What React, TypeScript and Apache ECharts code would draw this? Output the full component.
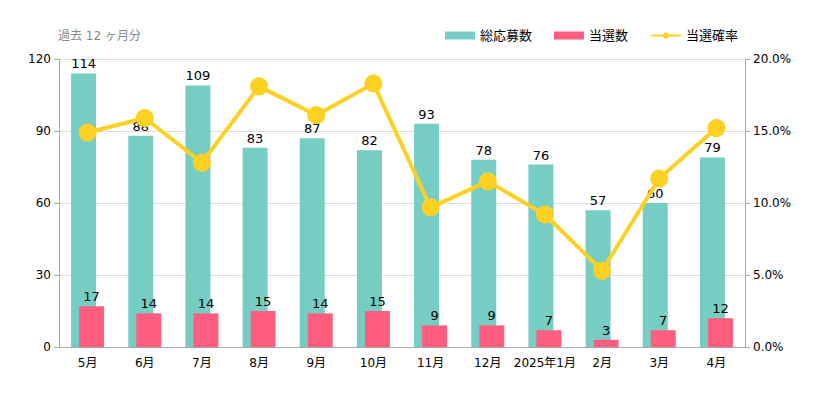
import React, { useEffect, useRef } from "react";
import * as echarts from "echarts";

const months = ["5月", "6月", "7月", "8月", "9月", "10月", "11月", "12月", "2025年1月", "2月", "3月", "4月"];
const applications = [114, 88, 109, 83, 87, 82, 93, 78, 76, 57, 60, 79];
const winners = [17, 14, 14, 15, 14, 15, 9, 9, 7, 3, 7, 12];
const winRate = [14.9, 15.9, 12.8, 18.1, 16.1, 18.3, 9.7, 11.5, 9.2, 5.3, 11.7, 15.2];
const leftTicks = { min: 0, max: 120, interval: 30 };
const rightTicks = { min: 0, max: 20, interval: 5 };

const FONT = "'DejaVu Sans', 'Noto Sans CJK JP', sans-serif";

export default function App() {
  const ref = useRef<HTMLDivElement>(null);
  useEffect(() => {
    const chart = echarts.init(ref.current!, null, { renderer: "svg" });
    chart.setOption({
      animation: false,
      textStyle: { fontFamily: FONT },
      title: {
        text: "過去 12 ヶ月分",
        left: 45,
        top: 17,
        textStyle: { fontSize: 12, color: "#888", fontWeight: "normal", fontFamily: FONT },
      },
      legend: {
        right: 81,
        top: 16,
        itemWidth: 30,
        itemHeight: 8,
        itemGap: 22,
        textStyle: { fontSize: 13, color: "#000", fontFamily: FONT },
        data: [
          { name: "総応募数", icon: "rect" },
          { name: "当選数", icon: "rect" },
          { name: "当選確率" },
        ],
      },
      grid: { left: 51, right: 79, top: 51, bottom: 42 },
      xAxis: {
        type: "category",
        data: months,
        axisLine: { lineStyle: { color: "#aaa" } },
        axisTick: { lineStyle: { color: "#aaa" } },
        axisLabel: { color: "#000", fontSize: 12, margin: 10, interval: 0, fontFamily: FONT },
      },
      yAxis: [
        {
          type: "value",
          min: leftTicks.min,
          max: leftTicks.max,
          interval: leftTicks.interval,
          axisLine: { show: true, lineStyle: { color: "#aaa" } },
          axisTick: { show: true, lineStyle: { color: "#aaa" } },
          axisLabel: { color: "#000", fontSize: 12, fontFamily: FONT },
          splitLine: { lineStyle: { color: "#ddd" } },
        },
        {
          type: "value",
          min: rightTicks.min,
          max: rightTicks.max,
          interval: rightTicks.interval,
          axisLine: { show: true, lineStyle: { color: "#aaa" } },
          axisTick: { show: true, lineStyle: { color: "#aaa" } },
          axisLabel: {
            color: "#000",
            fontSize: 12,
            fontFamily: FONT,
            formatter: (v: number) => v.toFixed(1) + "%",
          },
          splitLine: { show: false },
        },
      ],
      series: [
        {
          name: "総応募数",
          type: "bar",
          data: applications,
          barWidth: 25,
          barGap: "-68%",
          itemStyle: { color: "#76CDC4" },
          label: { show: true, position: "top", color: "#000", fontSize: 13, distance: 3, fontFamily: FONT },
          z: 2,
        },
        {
          name: "当選数",
          type: "bar",
          data: winners,
          barWidth: 25,
          itemStyle: { color: "#FF5E7E" },
          label: { show: true, position: "top", color: "#000", fontSize: 13, distance: 3, fontFamily: FONT },
          z: 3,
        },
        {
          name: "当選確率",
          type: "line",
          yAxisIndex: 1,
          data: winRate,
          symbol: "circle",
          symbolSize: 18,
          lineStyle: { color: "#FDD124", width: 4 },
          itemStyle: { color: "#FDD124" },
          z: 4,
        },
      ],
    });
    return () => chart.dispose();
  }, []);
  return <div ref={ref} style={{ width: 816, height: 381 }} />;
}
